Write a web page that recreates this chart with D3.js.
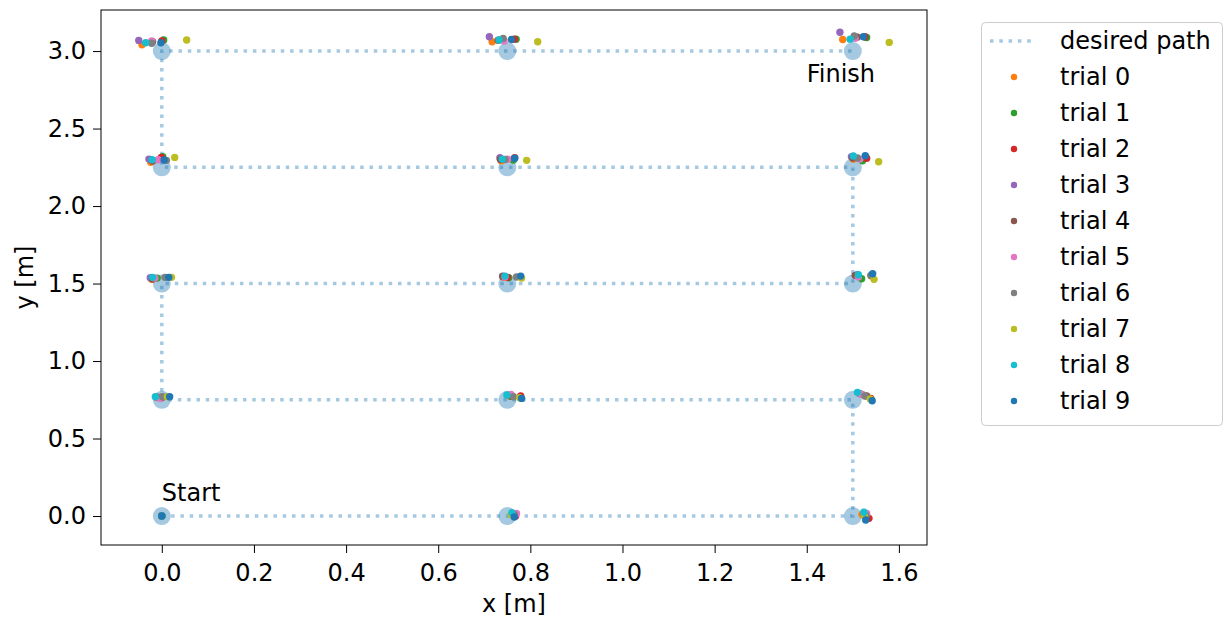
<!DOCTYPE html>
<html>
<head>
<meta charset="utf-8">
<script src="https://cdn.jsdelivr.net/npm/d3@7"></script>
<style>
  body { margin: 0; background: #fff; }
  svg { font-family: "DejaVu Sans", sans-serif; }
</style>
</head>
<body>
<svg width="1231" height="624"></svg>
<script>

// desired path, in visiting order
let waypoints = [
  [0, 0], [0.75, 0], [1.5, 0],
  [1.5, 0.75], [0.75, 0.75], [0, 0.75],
  [0, 1.5], [0.75, 1.5], [1.5, 1.5],
  [1.5, 2.25], [0.75, 2.25], [0, 2.25],
  [0, 3], [0.75, 3], [1.5, 3]
]

// measured positions per trial, same order as waypoints
let trial0 = [[0,0],[0.762,0.008],[1.520,0.010],[1.515,0.790],[0.755,0.775],[-0.010,0.765],[-0.022,1.527],[0.742,1.540],[1.510,1.550],[1.501,2.303],[0.737,2.292],[-0.024,2.282],[-0.043,3.040],[0.717,3.060],[1.478,3.075]]
let trial1 = [[0,0],[0.765,0.005],[1.525,0.005],[1.520,0.785],[0.758,0.772],[-0.002,0.765],[-0.010,1.535],[0.753,1.537],[1.519,1.531],[1.521,2.292],[0.763,2.297],[0.002,2.318],[0.004,3.071],[0.769,3.077],[1.530,3.088]]
let trial2 = [[0,0],[0.768,0.000],[1.535,-0.015],[1.539,0.759],[0.779,0.774],[0.000,0.765],[-0.018,1.532],[0.750,1.540],[1.540,1.550],[1.530,2.308],[0.766,2.312],[-0.001,2.314],[0.000,3.065],[0.765,3.077],[1.526,3.092]]
let trial3 = [[0,0],[0.762,0.015],[1.525,0.015],[1.515,0.790],[0.757,0.780],[-0.012,0.768],[-0.025,1.537],[0.740,1.548],[1.510,1.557],[1.497,2.318],[0.734,2.312],[-0.028,2.303],[-0.050,3.069],[0.711,3.092],[1.472,3.121]]
let trial4 = [[0,0],[0.765,0.005],[1.530,0.000],[1.530,0.775],[0.760,0.775],[-0.005,0.765],[-0.020,1.530],[0.740,1.545],[1.505,1.553],[1.500,2.310],[0.735,2.300],[-0.020,2.290],[-0.020,3.060],[0.730,3.070],[1.510,3.090]]
let trial5 = [[0,0],[0.770,0.017],[1.530,0.017],[1.519,0.785],[0.758,0.785],[-0.004,0.760],[-0.015,1.535],[0.745,1.542],[1.512,1.542],[1.515,2.303],[0.751,2.303],[-0.008,2.299],[-0.022,3.065],[0.743,3.065],[1.505,3.082]]
let trial6 = [[0,0],[0.765,0.010],[1.528,0.005],[1.526,0.774],[0.763,0.770],[0.002,0.770],[0.007,1.540],[0.770,1.542],[1.539,1.553],[1.510,2.310],[0.745,2.300],[0.010,2.295],[-0.022,3.050],[0.741,3.082],[1.503,3.097]]
let trial7 = [[0,0],[0.758,0.010],[1.525,0.000],[1.538,0.755],[0.777,0.763],[0.012,0.770],[0.021,1.540],[0.781,1.535],[1.546,1.527],[1.556,2.286],[0.792,2.295],[0.028,2.314],[0.054,3.071],[0.816,3.060],[1.579,3.056]]
let trial8 = [[0,0],[0.760,0.021],[1.524,0.024],[1.510,0.798],[0.749,0.781],[-0.014,0.770],[-0.020,1.540],[0.745,1.548],[1.512,1.557],[1.501,2.323],[0.739,2.303],[-0.021,2.299],[-0.035,3.054],[0.732,3.071],[1.494,3.077]]
let trial9 = [[0,0],[0.765,-0.006],[1.528,-0.026],[1.542,0.744],[0.781,0.759],[0.017,0.770],[0.015,1.540],[0.779,1.548],[1.543,1.563],[1.527,2.325],[0.766,2.308],[0.005,2.297],[-0.002,3.054],[0.759,3.075],[1.523,3.092]]

let trials = [trial0, trial1, trial2, trial3, trial4, trial5, trial6, trial7, trial8, trial9]
let trial_names = trials.map((t, i) => `trial ${i}`)

let xticks = [0, 0.2, 0.4, 0.6, 0.8, 1.0, 1.2, 1.4, 1.6]
let yticks = [0, 0.5, 1.0, 1.5, 2.0, 2.5, 3.0]

let notas = [
  {texto: 'Start', x: 0, y: 0.1},
  {texto: 'Finish', x: 1.4, y: 2.8}
]


/* Lienzo */

let fs = 24
let svg = d3.select('svg')
let caja = {left: 101, right: 927, top: 10, bottom: 545}

let x = d3.scaleLinear().domain([-0.132, 1.661]).range([caja.left, caja.right])
let y = d3.scaleLinear().domain([-0.187, 3.265]).range([caja.bottom, caja.top])

let colores = d3.schemeCategory10.slice(1).concat(d3.schemeCategory10[0])
let azul_claro = 'rgba(31,119,180,0.4)'


/* Ejes */

let eje_x = svg.append('g')
  .attr('transform', `translate(0,${caja.bottom})`)
  .call(d3.axisBottom(x).tickValues(xticks).tickFormat(d3.format('.1f'))
    .tickSizeInner(8).tickSizeOuter(0).tickPadding(11))

let eje_y = svg.append('g')
  .attr('transform', `translate(${caja.left},0)`)
  .call(d3.axisLeft(y).tickValues(yticks).tickFormat(d3.format('.1f'))
    .tickSizeInner(8).tickSizeOuter(0).tickPadding(7))

for (let eje of [eje_x, eje_y]) {
  eje.attr('font-family', null).attr('font-size', fs)
  eje.selectAll('text').attr('fill', '#000')
  eje.selectAll('line').attr('stroke', '#000')
  eje.select('.domain').remove()
}

svg.append('rect')
  .attr('x', caja.left).attr('y', caja.top)
  .attr('width', caja.right - caja.left).attr('height', caja.bottom - caja.top)
  .attr('fill', 'none').attr('stroke', '#000').attr('stroke-width', 1)

svg.append('text')
  .attr('x', (caja.left + caja.right) / 2).attr('y', 612)
  .attr('text-anchor', 'middle').attr('font-size', fs)
  .text('x [m]')

svg.append('text')
  .attr('transform', `translate(33,${(caja.top + caja.bottom) / 2}) rotate(-90)`)
  .attr('text-anchor', 'middle').attr('font-size', fs)
  .text('y [m]')


/* Camino deseado */

let linea = d3.line().x(d => x(d[0])).y(d => y(d[1]))

let trazo = svg.append('g')

trazo.append('path')
  .datum(waypoints)
  .attr('d', linea)
  .attr('fill', 'none')
  .attr('stroke', azul_claro)
  .attr('stroke-width', 3.5)
  .attr('stroke-dasharray', '3.5 5.8')

trazo.selectAll('circle')
  .data(waypoints).enter()
  .append('circle')
  .attr('cx', d => x(d[0]))
  .attr('cy', d => y(d[1]))
  .attr('r', 9)
  .attr('fill', azul_claro)


/* Ensayos */

trials.forEach((t, i) => {
  svg.append('g').selectAll('circle')
    .data(t).enter()
    .append('circle')
    .attr('cx', d => x(d[0]))
    .attr('cy', d => y(d[1]))
    .attr('r', 3.7)
    .attr('fill', colores[i])
})

svg.selectAll('text.nota')
  .data(notas).enter()
  .append('text')
  .attr('class', 'nota')
  .attr('x', d => x(d.x))
  .attr('y', d => y(d.y))
  .attr('font-size', fs)
  .text(d => d.texto)


/* Leyenda */

let ley = svg.append('g').attr('transform', 'translate(981,22)')

ley.append('rect')
  .attr('x', 0.5).attr('y', 0.5)
  .attr('width', 241).attr('height', 403).attr('rx', 4)
  .attr('fill', '#fff').attr('stroke', '#ccc')

ley.append('line')
  .attr('x1', 9).attr('x2', 55).attr('y1', 19).attr('y2', 19)
  .attr('stroke', azul_claro).attr('stroke-width', 3.5).attr('stroke-dasharray', '3.5 5.8')

ley.append('text')
  .attr('x', 79).attr('y', 27).attr('font-size', fs)
  .text('desired path')

let filas = ley.selectAll('g.fila')
  .data(trial_names).enter()
  .append('g')
  .attr('class', 'fila')
  .attr('transform', (d, i) => `translate(0,${55 + i * 36})`)

filas.append('circle')
  .attr('cx', 33).attr('cy', 0).attr('r', 3.2)
  .attr('fill', (d, i) => colores[i])

filas.append('text')
  .attr('x', 79).attr('y', 8).attr('font-size', fs)
  .text(d => d)

</script>
</body>
</html>
